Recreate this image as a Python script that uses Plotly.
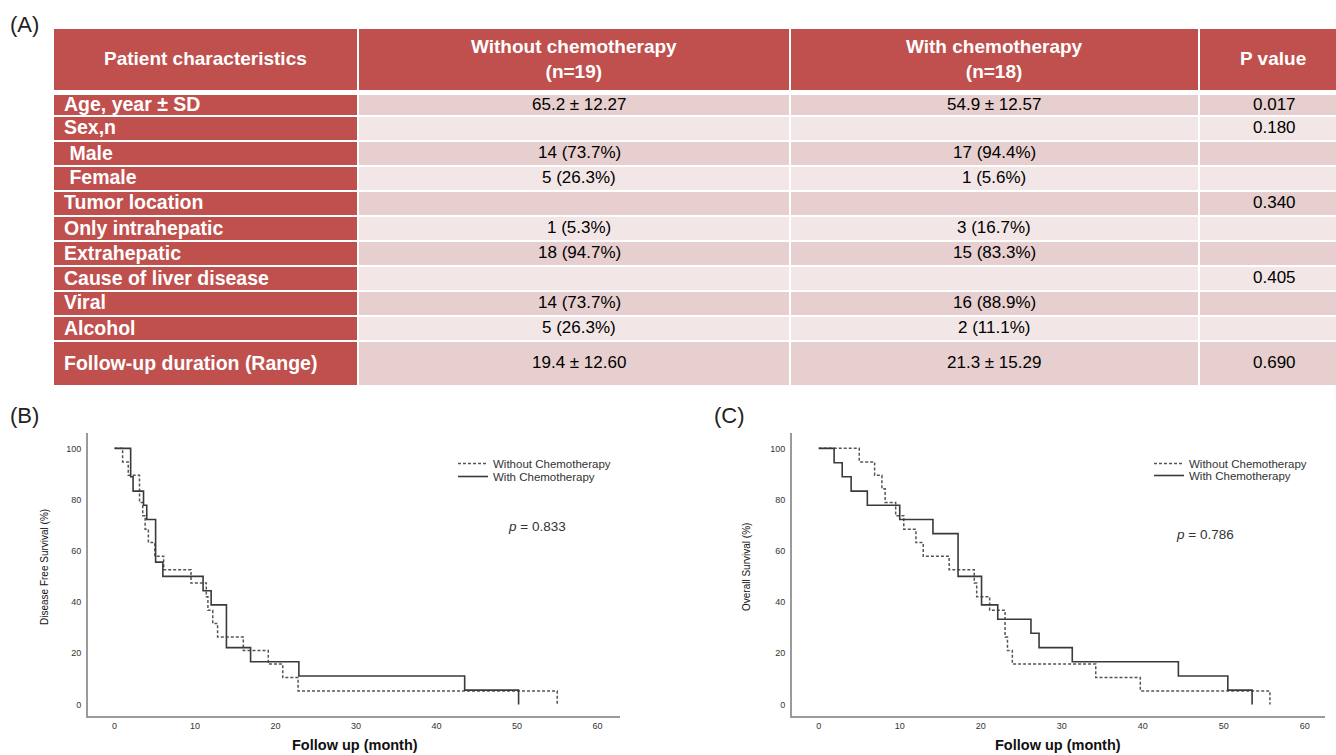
import plotly.graph_objects as go

# ---------------- Table data ----------------
col_headers = ["Patient characteristics", "Without chemotherapy<br>(n=19)",
               "With chemotherapy<br>(n=18)", "P value"]
row_labels = ["Age, year ± SD", "Sex,n", " Male", " Female", "Tumor location",
              "Only intrahepatic", "Extrahepatic", "Cause of liver disease",
              "Viral", "Alcohol", "Follow-up duration (Range)"]
without_vals = ["65.2 ± 12.27", "", "14 (73.7%)", "5 (26.3%)", "", "1 (5.3%)",
                "18 (94.7%)", "", "14 (73.7%)", "5 (26.3%)", "19.4 ± 12.60"]
with_vals = ["54.9 ± 12.57", "", "17 (94.4%)", "1 (5.6%)", "", "3 (16.7%)",
             "15 (83.3%)", "", "16 (88.9%)", "2 (11.1%)", "21.3 ± 15.29"]
p_vals = ["0.017", "0.180", "", "", "0.340", "", "", "0.405", "", "", "0.690"]

# ---------------- Kaplan-Meier data ----------------
dfs_without_t = [0, 1.0, 1.7, 3.1, 3.5, 3.8, 4.2, 5.0, 6.1, 9.5, 11.4, 11.6, 12.2,
                 12.8, 16.0, 19.1, 20.9, 22.8, 55.0]
dfs_without_s = [100, 94.7, 89.5, 78.9, 73.7, 68.4, 63.2, 57.9, 52.6, 47.4, 42.1,
                 36.8, 31.6, 26.3, 21.1, 15.8, 10.5, 5.3, 0]
dfs_with_t = [0, 2.0, 2.3, 3.6, 4.0, 5.1, 6.0, 11.0, 12.0, 13.9, 16.9, 22.9, 43.5, 50.2]
dfs_with_s = [100, 88.9, 83.3, 77.8, 72.2, 55.6, 50.0, 44.4, 38.9, 22.2, 16.7, 11.1,
              5.6, 0]

os_without_t = [0, 5.0, 6.9, 7.8, 8.2, 9.5, 10.5, 12.0, 12.9, 16.1, 19.2, 19.5, 21.1,
                23.0, 23.3, 23.9, 34.2, 39.7, 55.7]
os_without_s = [100, 94.7, 89.5, 84.2, 78.9, 73.7, 68.4, 63.2, 57.9, 52.6, 47.4, 42.1,
                36.8, 26.3, 21.1, 15.8, 10.5, 5.3, 0]
os_with_t = [0, 1.9, 2.9, 4.0, 6.0, 10.0, 14.1, 17.2, 20.1, 22.1, 26.2, 27.2, 31.3,
             44.4, 50.5, 53.5]
os_with_s = [100, 94.4, 88.9, 83.3, 77.8, 72.2, 66.7, 50.0, 38.9, 33.3, 27.8, 22.2,
             16.7, 11.1, 5.6, 0]

p_dfs = "0.833"
p_os = "0.786"
x_ticks = [0, 10, 20, 30, 40, 50, 60]
y_ticks = [0, 20, 40, 60, 80, 100]

# ---------------- Layout geometry / styles (pixels) ----------------
W, H = 1336, 755
RED = "#C0504D"
PINK_D = "#E6CFCE"
PINK_L = "#F2E6E6"
FONT = "Arial, Liberation Sans, sans-serif"

col_edges = [53, 358, 790, 1199, 1347]       # column boundaries
header_top, header_bot = 28, 91
row_edges = [94, 116, 141, 166, 191, 216, 241, 266, 291, 316, 341, 386]
GAP = 1


def px_y(y):
    return 1 - y / H


def px_x(x):
    return x / W


fig = go.Figure()
shapes = []
ann = []


def cell(x0, x1, y0, y1, color):
    shapes.append(dict(type="rect", xref="paper", yref="paper",
                       x0=px_x(x0 + GAP), x1=px_x(x1 - GAP),
                       y0=px_y(y1 - GAP), y1=px_y(y0 + GAP),
                       fillcolor=color, line=dict(width=0), layer="below"))


# header
for j, h in enumerate(col_headers):
    cell(col_edges[j], col_edges[j + 1], header_top, header_bot, RED)
    cx = (col_edges[j] + col_edges[j + 1]) / 2
    if j == 3:
        cx = 1273
    ann.append(dict(text="<b>" + h.replace("<br>", "</b><br><b>") + "</b>",
                    x=px_x(cx), y=px_y((header_top + header_bot) / 2 - 1),
                    xref="paper", yref="paper", xanchor="center", yanchor="middle",
                    showarrow=False, align="center",
                    font=dict(family=FONT, size=19, color="white")))

# body
columns = [row_labels, without_vals, with_vals, p_vals]
for i in range(len(row_labels)):
    y0, y1 = row_edges[i], row_edges[i + 1]
    band = PINK_D if i % 2 == 0 else PINK_L
    for j in range(4):
        cell(col_edges[j], col_edges[j + 1], y0, y1, RED if j == 0 else band)
        txt = columns[j][i]
        if not txt:
            continue
        if j == 0:
            label = txt.replace(" ", "&nbsp;", 1) if txt.startswith(" ") else txt
            ann.append(dict(text="<b>" + label + "</b>",
                            x=px_x(62), y=px_y((y0 + y1) / 2 - 1), xref="paper",
                            yref="paper", xanchor="left", yanchor="middle",
                            showarrow=False,
                            font=dict(family=FONT, size=19.5, color="white")))
        else:
            cx = (col_edges[j] + col_edges[j + 1]) / 2
            if j == 1:
                cx = 579
            if j == 3:
                cx = 1274
            ann.append(dict(text=txt, x=px_x(cx), y=px_y((y0 + y1) / 2 - 1),
                            xref="paper", yref="paper", xanchor="center",
                            yanchor="middle", showarrow=False,
                            font=dict(family=FONT, size=17, color="black")))

# ---------------- KM curves ----------------
dash_line = dict(color="#555555", width=1.5, dash="3px,2px", shape="hv")
solid_line = dict(color="#3a3a3a", width=1.6, shape="hv")

fig.add_trace(go.Scatter(x=dfs_without_t, y=dfs_without_s, mode="lines",
                         line=dash_line, name="Without Chemotherapy",
                         xaxis="x", yaxis="y", legend="legend"))
fig.add_trace(go.Scatter(x=dfs_with_t, y=dfs_with_s, mode="lines",
                         line=solid_line, name="With Chemotherapy",
                         xaxis="x", yaxis="y", legend="legend2"))
fig.add_trace(go.Scatter(x=os_without_t, y=os_without_s, mode="lines",
                         line=dash_line, name="Without Chemotherapy",
                         xaxis="x2", yaxis="y2", legend="legend3"))
fig.add_trace(go.Scatter(x=os_with_t, y=os_with_s, mode="lines",
                         line=solid_line, name="With Chemotherapy",
                         xaxis="x2", yaxis="y2", legend="legend4"))

axis_common = dict(showgrid=False, zeroline=False, showline=True, linecolor="#9a9a9a",
                   linewidth=2, ticks="", tickfont=dict(family=FONT, size=9, color="#333"))


def leg(xpx, ytop):
    return dict(x=px_x(xpx), y=px_y(ytop), xanchor="left", yanchor="top",
                bgcolor="rgba(0,0,0,0)", font=dict(family=FONT, size=11.5, color="#333"),
                tracegroupgap=0, itemwidth=30)


ydom = [px_y(716), px_y(433)]
fig.update_layout(
    width=W, height=H,
    margin=dict(l=0, r=0, t=0, b=0),
    paper_bgcolor="white", plot_bgcolor="white",
    xaxis=dict(domain=[px_x(88), px_x(620)], range=[-3.3, 62.8], tickvals=x_ticks,
               anchor="y", ticklabelstandoff=0, **axis_common),
    yaxis=dict(domain=ydom, range=[-4.5, 106], tickvals=y_ticks, anchor="x",
               ticklabelstandoff=3, **axis_common),
    xaxis2=dict(domain=[px_x(792), px_x(1325)], range=[-3.3, 62.5], tickvals=x_ticks,
                anchor="y2", ticklabelstandoff=0, **axis_common),
    yaxis2=dict(domain=ydom, range=[-4.5, 106], tickvals=y_ticks, anchor="x2",
                ticklabelstandoff=3, **axis_common),
    legend=leg(453, 449),
    legend2=leg(453, 462),
    legend3=leg(1149, 449),
    legend4=leg(1149, 461),
    showlegend=True,
)

for txt, x, y in [("(A)", 8, 24), ("(B)", 8, 415), ("(C)", 712, 415)]:
    ann.append(dict(text=txt, x=px_x(x), y=px_y(y), xref="paper", yref="paper",
                    xanchor="left", yanchor="middle", showarrow=False,
                    font=dict(family=FONT, size=22, color="#222")))
ann.append(dict(text="Disease Free Survival (%)", x=px_x(44), y=px_y(567), xref="paper",
                yref="paper", xanchor="center", yanchor="middle", textangle=-90,
                showarrow=False, font=dict(family=FONT, size=10, color="#111")))
ann.append(dict(text="Overall Survival (%)", x=px_x(746), y=px_y(567), xref="paper",
                yref="paper", xanchor="center", yanchor="middle", textangle=-90,
                showarrow=False, font=dict(family=FONT, size=10, color="#111")))
ann.append(dict(text="<b>Follow up (month)</b>", x=px_x(355), y=px_y(745), xref="paper",
                yref="paper", xanchor="center", yanchor="middle", showarrow=False,
                font=dict(family=FONT, size=14.5, color="#111")))
ann.append(dict(text="<b>Follow up (month)</b>", x=px_x(1058), y=px_y(745), xref="paper",
                yref="paper", xanchor="center", yanchor="middle", showarrow=False,
                font=dict(family=FONT, size=14.5, color="#111")))
ann.append(dict(text="<i>p</i> = " + p_dfs, x=52.5, y=69.3, xref="x", yref="y",
                xanchor="center", yanchor="middle", showarrow=False,
                font=dict(family=FONT, size=13.5, color="#333")))
ann.append(dict(text="<i>p</i> = " + p_os, x=47.7, y=66.2, xref="x2", yref="y2",
                xanchor="center", yanchor="middle", showarrow=False,
                font=dict(family=FONT, size=13.5, color="#333")))
fig.update_layout(annotations=ann, shapes=shapes)

fig.write_html("out.html", config={"displayModeBar": False},
               post_script="document.body.style.margin='0px';")
